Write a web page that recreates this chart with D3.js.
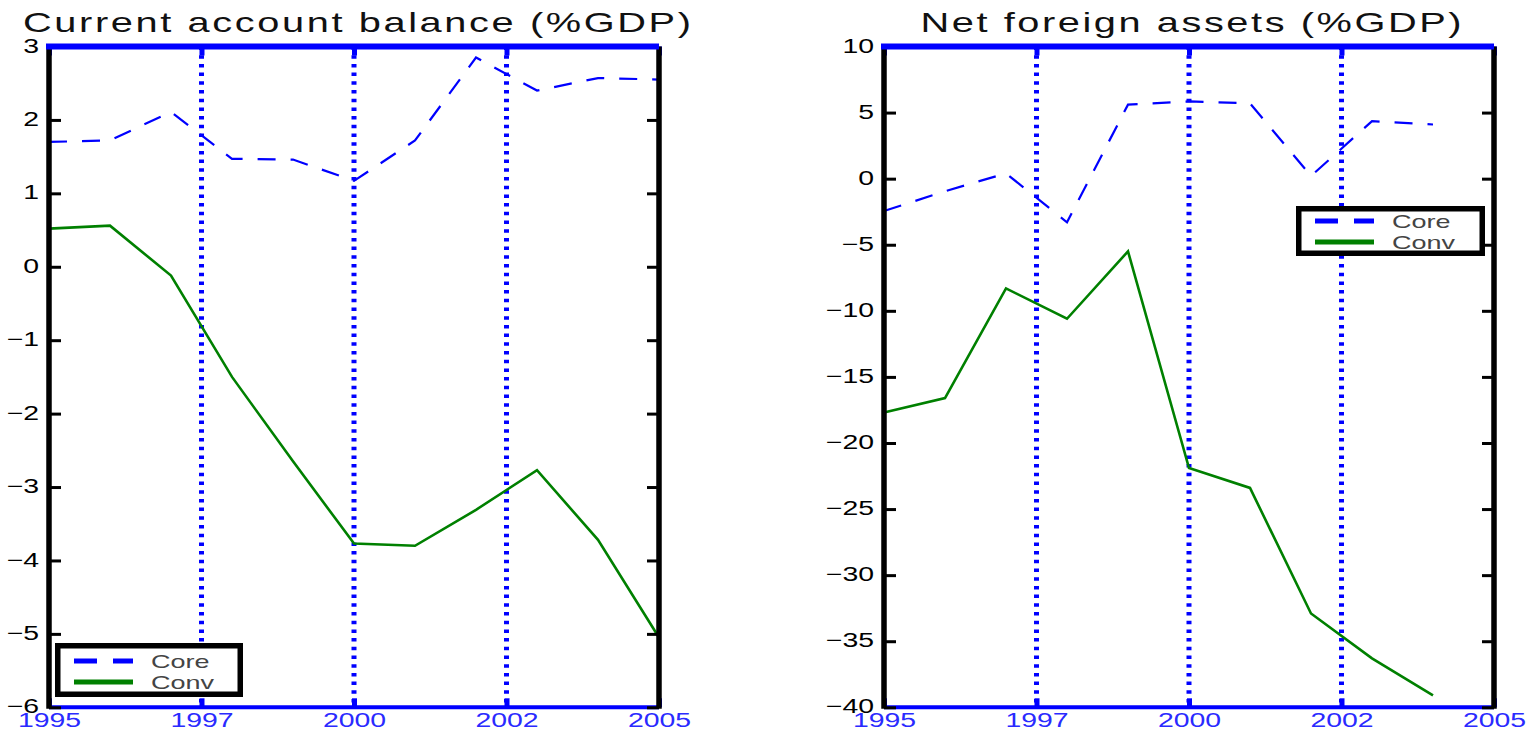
<!DOCTYPE html>
<html>
<head>
<meta charset="utf-8">
<script src="https://cdn.jsdelivr.net/npm/d3@7"></script>
<style>
  body { margin: 0; background: #fff; }
  svg { display: block; }
</style>
</head>
<body>
<svg id="chart" width="1533" height="731"></svg>
<script>
// ---- data ----------------------------------------------------------------
const seriesNames = ["Core", "Conv"];

// Current account balance (%GDP), annual 1995-2005
const caYears = [1995, 1996, 1997, 1998, 1999, 2000, 2001, 2002, 2003, 2004, 2005];
const caCore  = [1.70, 1.72, 2.11, 1.47, 1.46, 1.17, 1.72, 2.85, 2.40, 2.57, 2.55];
const caConv  = [0.52, 0.56, -0.12, -1.50, -2.65, -3.77, -3.80, -3.31, -2.77, -3.72, -5.05];
const caTicks = [3, 2, 1, 0, -1, -2, -3, -4, -5, -6];

// Net foreign assets (%GDP), annual 1995-2004
const nfaYears = [1995, 1996, 1997, 1998, 1999, 2000, 2001, 2002, 2003, 2004];
const nfaCore  = [-2.45, -0.95, 0.40, -3.30, 5.60, 5.85, 5.70, 0.20, 4.35, 4.10];
const nfaConv  = [-17.7, -16.6, -8.3, -10.6, -5.5, -21.9, -23.4, -32.9, -36.3, -39.1];
const nfaTicks = [10, 5, 0, -5, -10, -15, -20, -25, -30, -35, -40];

// shared time axis: ticks every 2.5 years, labels shown as whole years
const xDomain = [1995, 2005];
const xTickValues = [1995, 1997.5, 2000, 2002.5, 2005];
const xTickLabels = ["1995", "1997", "2000", "2002", "2005"];

// ---- layout --------------------------------------------------------------
const FONT = '"Liberation Sans", Arial, Helvetica, sans-serif';
const SX = 1.42;            // horizontal stretch applied to all lettering
const TOP = 46.5, BOTTOM = 707.3;
const BLUE = "#0000ff", GREEN = "#008000";

const svg = d3.select("#chart");

function drawPanel(cfg) {
  const x = d3.scaleLinear().domain(xDomain).range([cfg.left, cfg.right]);
  const y = d3.scaleLinear().domain(cfg.yDomain).range([BOTTOM, TOP]);
  const g = svg.append("g");

  // dotted vertical reference lines at the inner time ticks
  g.append("g").selectAll("line")
    .data(xTickValues.slice(1, -1))
    .join("line")
    .attr("x1", d => x(d)).attr("x2", d => x(d))
    .attr("y1", TOP).attr("y2", BOTTOM)
    .attr("stroke", BLUE).attr("stroke-width", 5)
    .attr("stroke-dasharray", "3.5,5.2");

  // short inward ticks on bottom and top edges
  const styleXTicks = sel => {
    sel.select(".domain").remove();
    sel.selectAll("line").attr("stroke", BLUE).attr("stroke-width", 5);
  };
  const xb = g.append("g").attr("transform", `translate(0,${BOTTOM})`)
    .call(d3.axisBottom(x).tickValues(xTickValues)
      .tickFormat((d, i) => xTickLabels[i])
      .tickSizeInner(-9).tickSizeOuter(0).tickPadding(6));
  styleXTicks(xb);
  xb.selectAll("text")
    .attr("font-family", FONT).attr("font-size", 20)
    .attr("fill", "#2a2aff")
    .attr("transform", `scale(${SX},1)`);
  const xt = g.append("g").attr("transform", `translate(0,${TOP})`)
    .call(d3.axisTop(x).tickValues(xTickValues).tickFormat("")
      .tickSizeInner(-9).tickSizeOuter(0));
  styleXTicks(xt);

  // series
  const line = d3.line().x(d => x(d[0])).y(d => y(d[1]));
  g.append("path")
    .datum(cfg.years.map((yr, i) => [yr, cfg.conv[i]]))
    .attr("d", line).attr("fill", "none")
    .attr("stroke", GREEN).attr("stroke-width", 2.6)
    .attr("stroke-linejoin", "miter");
  g.append("path")
    .datum(cfg.years.map((yr, i) => [yr, cfg.core[i]]))
    .attr("d", line).attr("fill", "none")
    .attr("stroke", BLUE).attr("stroke-width", 2.2)
    .attr("stroke-dasharray", "18,15");

  // frame: blue bottom, black sides, blue top
  g.append("line")
    .attr("x1", cfg.left).attr("x2", cfg.right)
    .attr("y1", BOTTOM).attr("y2", BOTTOM)
    .attr("stroke", BLUE).attr("stroke-width", 4);
  [cfg.left, cfg.right].forEach(px => {
    g.append("line")
      .attr("x1", px).attr("x2", px)
      .attr("y1", TOP).attr("y2", BOTTOM + 1.5)
      .attr("stroke", "#000").attr("stroke-width", 5.5);
  });

  // y ticks (inward on both sides) and labels on the left
  const yl = g.append("g").attr("transform", `translate(${cfg.left},0)`)
    .call(d3.axisLeft(y).tickValues(cfg.yTicks).tickFormat(d3.format("d"))
      .tickSizeInner(-12).tickSizeOuter(0).tickPadding(10));
  yl.select(".domain").remove();
  yl.selectAll("line").attr("stroke", "#000").attr("stroke-width", 3);
  yl.selectAll("text")
    .attr("font-family", FONT).attr("font-size", 20).attr("fill", "#000")
    .attr("x", -10 / SX)
    .attr("dy", "0.28em")
    .attr("transform", `scale(${SX},1)`);
  const yr = g.append("g").attr("transform", `translate(${cfg.right},0)`)
    .call(d3.axisRight(y).tickValues(cfg.yTicks).tickFormat("")
      .tickSizeInner(-12).tickSizeOuter(0));
  yr.select(".domain").remove();
  yr.selectAll("line").attr("stroke", "#000").attr("stroke-width", 3);

  g.append("line")
    .attr("x1", cfg.left - 3).attr("x2", cfg.right)
    .attr("y1", TOP).attr("y2", TOP)
    .attr("stroke", BLUE).attr("stroke-width", 6);

  // title
  g.append("text")
    .attr("transform", `translate(${cfg.titleX},32) scale(${SX},1)`)
    .attr("text-anchor", "middle")
    .attr("font-family", FONT).attr("font-size", 28).attr("fill", "#111")
    .attr("textLength", cfg.titleWidth / SX)
    .attr("lengthAdjust", "spacing")
    .text(cfg.title);

  // legend
  const L = cfg.legend;
  const lg = g.append("g");
  lg.append("rect")
    .attr("x", L.x + 2.75).attr("y", L.y + 2.75)
    .attr("width", L.w - 5.5).attr("height", L.h - 5.5)
    .attr("fill", "#fff").attr("stroke", "#000").attr("stroke-width", 5.5);
  const rows = [
    { name: seriesNames[0], color: BLUE, dash: "23,16" },
    { name: seriesNames[1], color: GREEN, dash: null }
  ];
  rows.forEach((r, i) => {
    const ly = L.y + L.rowY[i];
    lg.append("line")
      .attr("x1", L.x + 19).attr("x2", L.x + 78)
      .attr("y1", ly).attr("y2", ly)
      .attr("stroke", r.color).attr("stroke-width", 5)
      .attr("stroke-dasharray", r.dash);
    lg.append("text")
      .attr("transform", `translate(${L.x + 96},${ly + 6.5}) scale(${SX},1)`)
      .attr("font-family", FONT).attr("font-size", 19).attr("fill", "#444")
      .text(r.name);
  });
}

drawPanel({
  left: 49, right: 659, yDomain: [-6, 3], yTicks: caTicks,
  years: caYears, core: caCore, conv: caConv,
  title: "Current account balance (%GDP)", titleX: 357, titleWidth: 668,
  legend: { x: 55, y: 643, w: 188, h: 54, rowY: [18, 39] }
});

drawPanel({
  left: 884, right: 1494, yDomain: [-40, 10], yTicks: nfaTicks,
  years: nfaYears, core: nfaCore, conv: nfaConv,
  title: "Net foreign assets (%GDP)", titleX: 1191, titleWidth: 541,
  legend: { x: 1296, y: 206, w: 189, h: 50, rowY: [15, 36] }
});
</script>
</body>
</html>
